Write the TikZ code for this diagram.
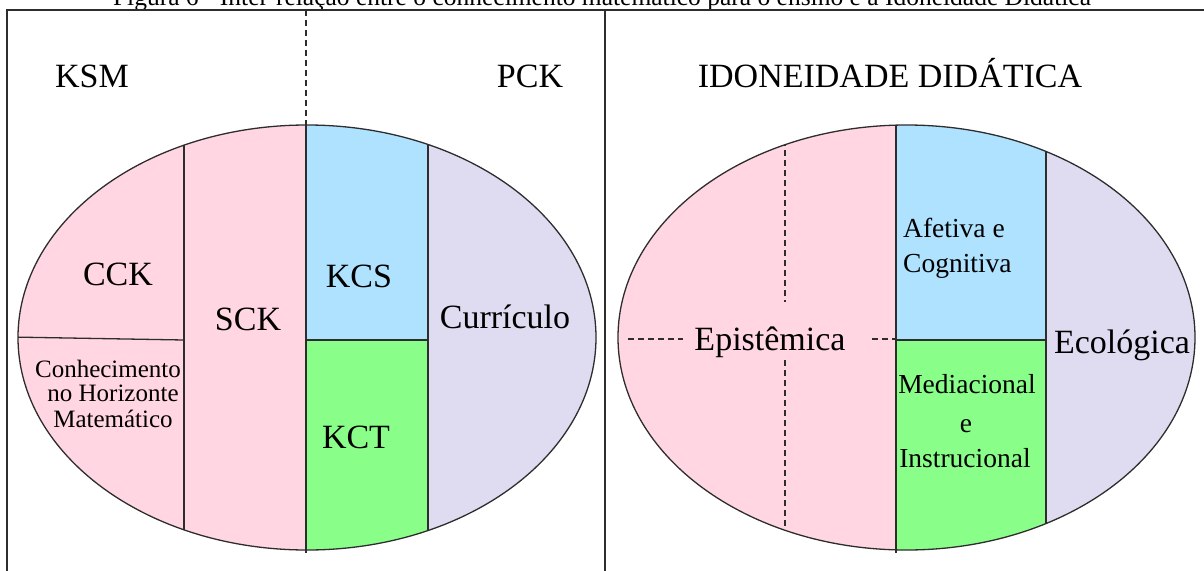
\documentclass[tikz,border=0pt]{standalone}
\usepackage{fontspec}
\setmainfont{Liberation Serif}
\definecolor{cpink}{RGB}{255,214,225}
\definecolor{cblue}{RGB}{174,226,254}
\definecolor{cgreen}{RGB}{137,255,137}
\definecolor{clav}{RGB}{223,219,240}
\definecolor{cline}{RGB}{45,45,45}
\tikzset{
  big/.style={inner sep=0pt, anchor=base, font=\fontsize{34}{34}\selectfont},
  small/.style={inner sep=0pt, anchor=base, font=\fontsize{25}{25}\selectfont},
  mid/.style={inner sep=0pt, anchor=base, font=\fontsize{27.5}{27.5}\selectfont},
  frameline/.style={draw=cline, line width=1.6pt},
  part/.style={draw=cline, line width=1.3pt},
  dashline/.style={draw=cline, line width=1.3pt, dash pattern=on 6pt off 4pt},
}
\begin{document}
\begin{tikzpicture}[x=1pt,y=-1pt]
\useasboundingbox (0,0) rectangle (1204,570);
\clip (0,0) rectangle (1204,570);
% caption (cut off at the top)
\node[inner sep=0pt, anchor=base, font=\fontsize{25.5}{25.5}\selectfont] (cap) at (602,5.5) {Figura 6 - Inter-relação entre o conhecimento matemático para o ensino e a Idoneidade Didática};
% frame
\draw[frameline] (7,580) -- (7,10) -- (1215,10);
\draw[frameline] (605,10) -- (605,580);

% ---------- left ellipse ----------
\begin{scope}
\clip (307,337.5) ellipse [x radius=289pt, y radius=212.5pt];
\fill[cpink] (0,100) rectangle (306,560);
\fill[cblue] (306,100) rectangle (428,340);
\fill[cgreen] (306,340) rectangle (428,560);
\fill[clav] (428,100) rectangle (600,560);
\draw[part] (184,100) -- (184,560);
\draw[part] (428,100) -- (428,560);
\draw[part] (10,337) -- (184,340);
\draw[part] (306,340) -- (428,340);
\end{scope}
\draw[part] (307,337.5) ellipse [x radius=289pt, y radius=212.5pt];
\draw[dashline] (306,10) -- (306,125);
\draw[part] (306,125) -- (306,553);

% ---------- right ellipse ----------
\begin{scope}
\clip (906.5,337.5) ellipse [x radius=288.5pt, y radius=212.5pt];
\fill[cpink] (600,100) rectangle (896,560);
\fill[cblue] (896,100) rectangle (1046,340);
\fill[cgreen] (896,340) rectangle (1046,560);
\fill[clav] (1046,100) rectangle (1204,560);
\draw[part] (1046,100) -- (1046,560);
\draw[part] (896,340) -- (1046,340);
\draw[dashline] (785,100) -- (785,302);
\draw[dashline] (785,360) -- (785,560);
\draw[dashline] (628,339) -- (683,339);
\draw[dashline] (872,339) -- (896,339);
\end{scope}
\draw[part] (906.5,337.5) ellipse [x radius=288.5pt, y radius=212.5pt];
\draw[part] (896,125) -- (896,553);

% ---------- labels ----------
\node[big] (ksm) at (92,87) {KSM};
\node[big] (pck) at (530,87) {PCK};
\node[big] (ido) at (890,87) {IDONEIDADE DIDÁTICA};
\node[big] (cck) at (118,285) {CCK};
\node[big] (sck) at (248,330) {SCK};
\node[big] (kcs) at (359,287) {KCS};
\node[big] (kct) at (356,448) {KCT};
\node[big] (cur) at (505,328) {Currículo};
\node[small] (ch1) at (108,377) {Conhecimento};
\node[small] (ch2) at (113,401) {no Horizonte};
\node[small] (ch3) at (113,427) {Matemático};
\node[big] (epi) at (770,350) {Epistêmica};
\node[big] (eco) at (1122,353) {Ecológica};
\node[mid, anchor=base west] (af1) at (903,237) {Afetiva e};
\node[mid, anchor=base west] (af2) at (903,272) {Cognitiva};
\node[mid] (me1) at (967,393) {Mediacional};
\node[mid] (me2) at (966,432) {e};
\node[mid] (me3) at (965,467) {Instrucional};
\end{tikzpicture}
\end{document}
